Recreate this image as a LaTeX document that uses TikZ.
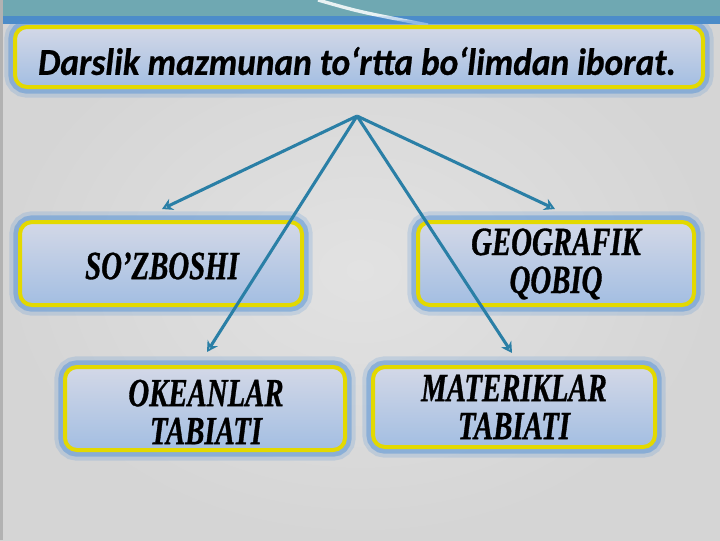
\documentclass[tikz,border=0pt]{standalone}
\usepackage{fontspec}
\usepackage{tikz}
\usetikzlibrary{arrows.meta}

\newfontfamily\titlefont[FakeStretch=0.93, FakeBold=0.6]{Carlito}
\newfontfamily\boxfont[FakeStretch=0.72, FakeBold=0.8]{Liberation Serif}

\definecolor{bggrey}{HTML}{D5D5D5}
\definecolor{bglight}{HTML}{E2E2E2}
\definecolor{bandteal}{HTML}{6FA8B2}
\definecolor{bandblue}{HTML}{4C8CC8}
\definecolor{boxyellow}{HTML}{E3D900}
\definecolor{boxtop}{HTML}{D3D8E7}
\definecolor{boxbottom}{HTML}{A3BEE2}
\definecolor{glowblue}{HTML}{4E8FD6}
\definecolor{arrowblue}{HTML}{2A7FA6}

\tikzset{
  panel/.style={rounded corners=9pt, draw=boxyellow, line width=3pt,
    top color=boxtop, bottom color=boxbottom, align=center,
    preaction={draw=glowblue, draw opacity=0.2, line width=16pt},
    preaction={draw=glowblue, draw opacity=0.45, line width=10pt}},
  label/.style={font=\boxfont\bfseries\itshape\fontsize{30}{28.5}\selectfont},
  link/.style={draw=arrowblue, line width=2.3pt,
    -{Stealth[open, length=8pt, width=9pt]}}
}

\begin{document}
\begin{tikzpicture}[x=0.75pt,y=0.75pt,yscale=-1,xscale=1]

  % background
  \useasboundingbox (0,0) rectangle (720,540);
  \shade[inner color=bglight, outer color=bggrey] (0,0) rectangle (720,540);
  \fill[bandteal] (0,0) rectangle (720,16);
  \fill[bandblue] (0,16) rectangle (720,24);
  \draw[white, line width=2.5pt, opacity=0.85] (318,0) .. controls (360,12) .. (428,25);
  \fill[gray!60] (0,0) rectangle (3,540);

  % title
  \node[panel, minimum width=688*0.75pt, minimum height=60*0.75pt] (title) at (359,57) {};
  \node[font=\titlefont\bfseries\itshape\fontsize{28.5}{30}\selectfont] (titletext) at (357,61)
    {Darslik mazmunan to‘rtta bo‘limdan iborat.};

  % the four parts
  \node[panel, minimum width=282*0.75pt, minimum height=83*0.75pt] (sozboshi) at (161,263.5) {};
  \node[label] (sozboshitext) at (162,266) {SO’ZBOSHI};

  \node[panel, minimum width=276*0.75pt, minimum height=83*0.75pt] (qobiq) at (556,263.5) {};
  \node[label, align=center] (qobiqtext) at (556,264) {GEOGRAFIK\\QOBIQ};

  \node[panel, minimum width=280*0.75pt, minimum height=83*0.75pt] (okean) at (205,408.5) {};
  \node[label, align=center] (okeantext) at (206,412) {OKEANLAR\\TABIATI};

  \node[panel, minimum width=282*0.75pt, minimum height=80*0.75pt] (materik) at (514,407) {};
  \node[label, align=center] (materiktext) at (514,407) {MATERIKLAR\\TABIATI};

  % arrows
  \coordinate (apex) at (357,116);
  \coordinate (sozend) at (162,209);
  \coordinate (qobiqend) at (555,209);
  \coordinate (okeanend) at (207,352);
  \coordinate (materikend) at (512,353);

  \draw[link] (apex) -- (sozend);
  \draw[link] (apex) -- (qobiqend);
  \draw[link] (apex) -- (okeanend);
  \draw[link] (apex) -- (materikend);

\end{tikzpicture}
\end{document}
